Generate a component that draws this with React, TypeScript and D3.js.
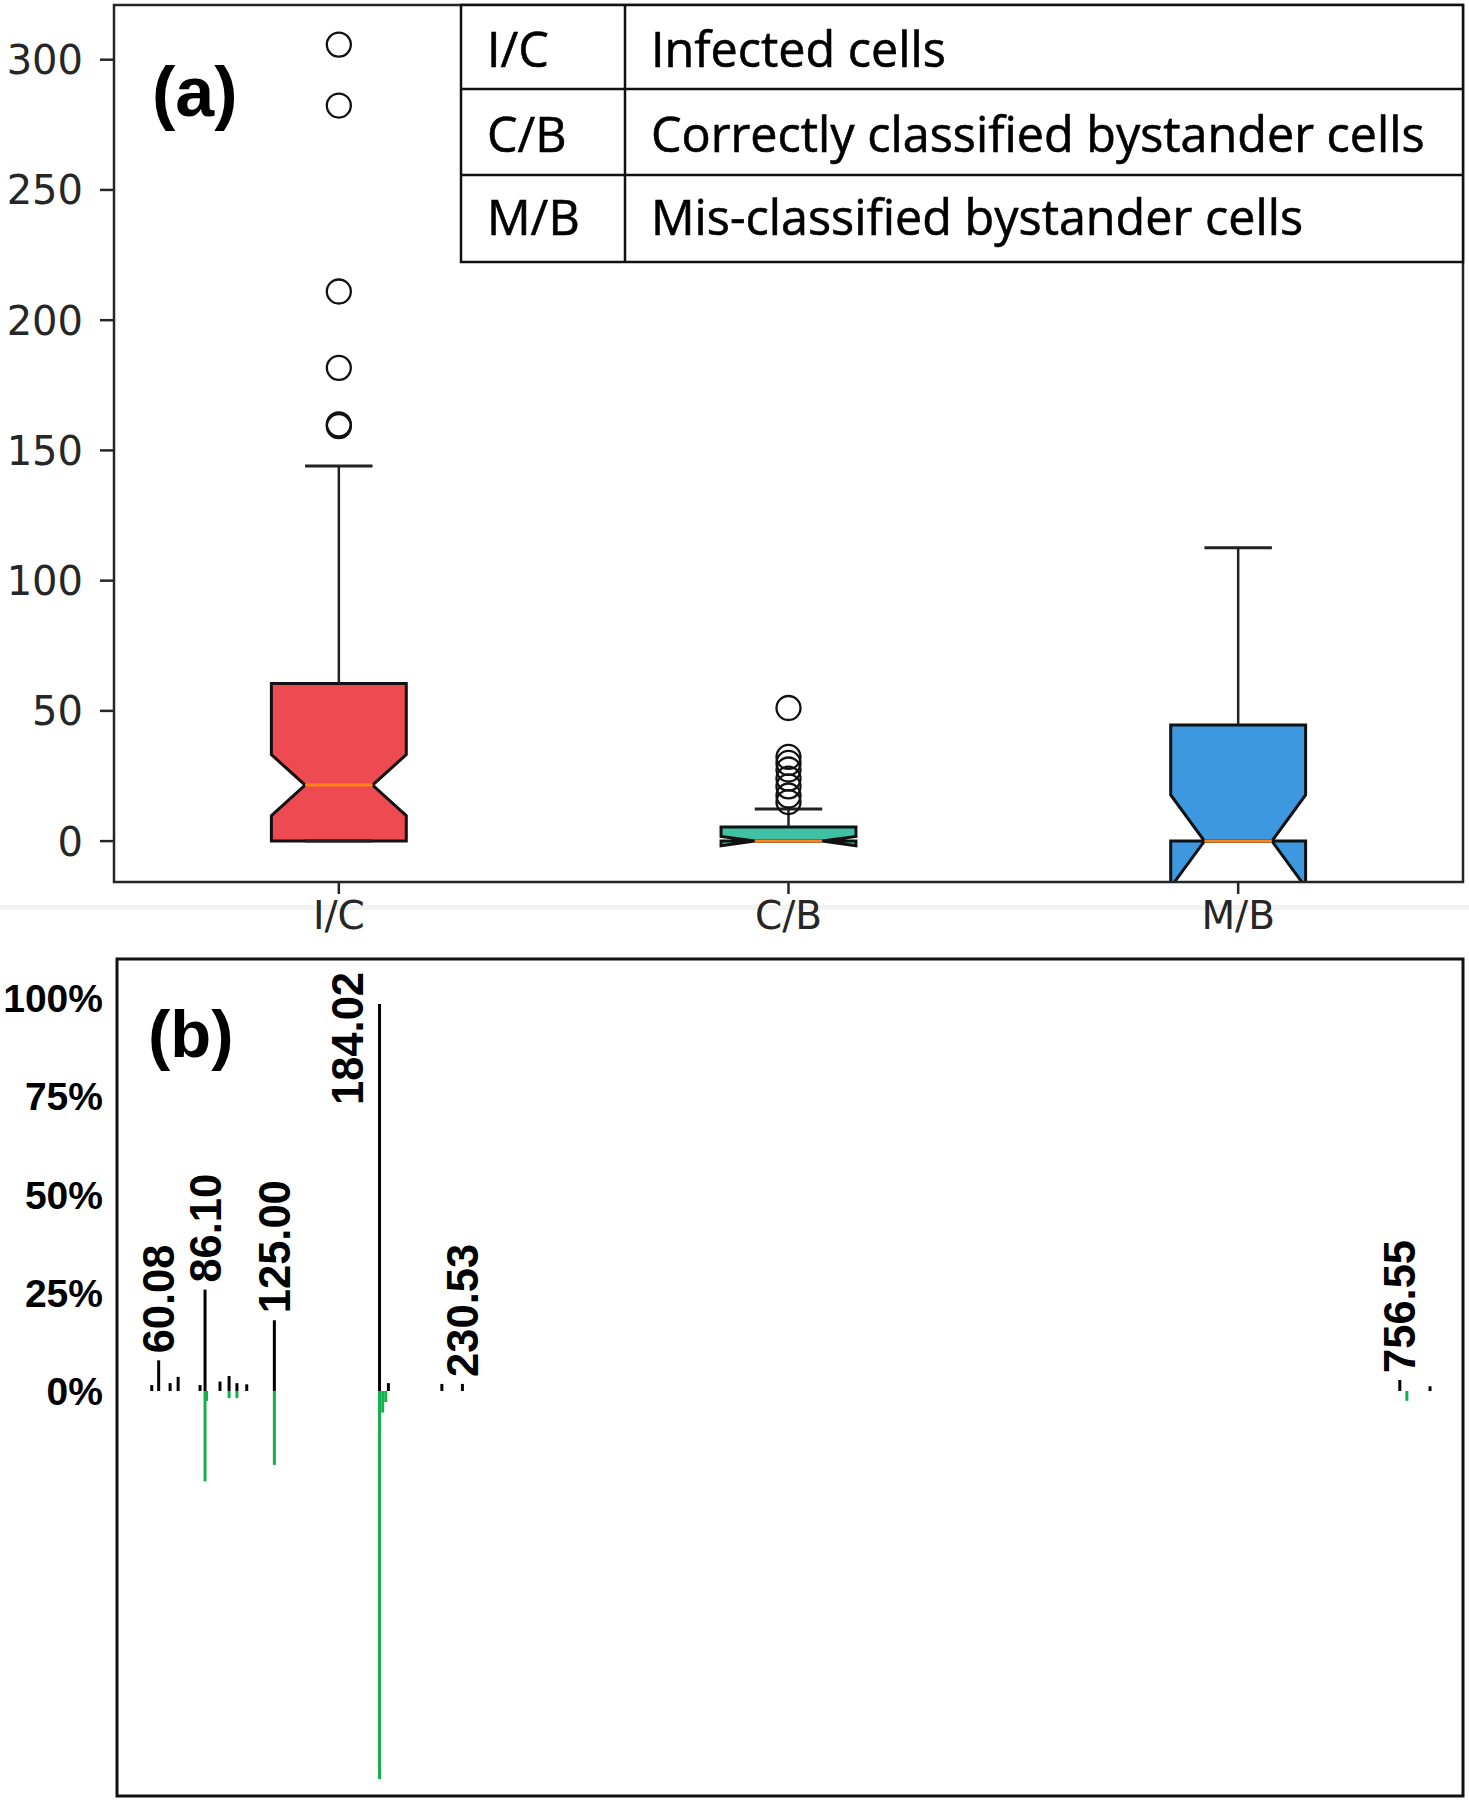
import React from "react";
import * as d3 from "d3";

// ---------- Panel (a) data: notched box plots ----------
const categories = ["I/C", "C/B", "M/B"];
const q1 = [0, 0, 0];
const medians = [21.5, 0, 0];
const q3 = [60.5, 5.4, 44.6];
const notchHalf = [11.7, 1.8, 17.7];
const whiskerLow = [0, 0, 0];
const whiskerHigh = [144, 12.3, 112.6];
const outliers = [
  [305.8, 282.4, 211, 181.7, 160, 159.3],
  [51.1, 32.3, 30, 27.5, 24, 21, 17.5, 15],
  [],
];
const boxColors = ["#EE4A51", "#3FC2A4", "#3D98E0"];
const yTicksA = [0, 50, 100, 150, 200, 250, 300];
const legendCodes = ["I/C", "C/B", "M/B"];
const legendNames = [
  "Infected cells",
  "Correctly classified bystander cells",
  "Mis-classified bystander cells",
];

// ---------- Panel (b) data: mirrored mass spectrum ----------
const expMz = [56.2, 60.08, 66.5, 71.0, 83.3, 86.1, 94.5, 99.6, 104.0, 109.5, 125.0, 184.02, 189.0, 219.0, 230.53, 756.55, 773.5];
const expInt = [1.5, 7.8, 2.0, 3.6, 1.5, 25.8, 2.4, 3.8, 2.0, 1.7, 18.0, 98.5, 2.0, 1.8, 1.8, 2.8, 1.2];
const predMz = [86.1, 87.0, 99.6, 104.0, 125.0, 184.02, 185.8, 187.5, 760.5];
const predInt = [23.0, 2.5, 1.8, 1.8, 18.8, 98.7, 5.5, 2.8, 2.5];
const labelMz = [60.08, 86.1, 125.0, 184.02, 230.53, 756.55];
const labelInt = [7.8, 25.8, 18.0, 98.5, 1.8, 2.8];
const labelText = ["60.08", "86.10", "125.00", "184.02", "230.53", "756.55"];
const yTicksB = [0, 25, 50, 75, 100];

export default function App() {
  // ----- panel (a) geometry -----
  const aL = 114, aR = 1463, aT = 5, aB = 882;
  const xA = d3.scaleLinear().domain([0.5, 3.5]).range([aL, aR]);
  const yA = d3.scaleLinear().domain([-15.7, 321]).range([aB, aT]);
  const boxW = xA(1.3) - xA(1);

  // ----- panel (b) geometry -----
  const bL = 117, bR = 1463, bT = 959, bB = 1796;
  const xB = d3.scaleLinear().domain([36.7, 792]).range([bL, bR]);
  const yUp = d3.scaleLinear().domain([0, 100]).range([1391, 998]);
  const yDown = d3.scaleLinear().domain([0, 100]).range([1391, 1784]);

  const tickFont = "'DejaVu Sans', sans-serif";
  const boldFont = "'Liberation Sans', Arial, sans-serif";
  const labelSize = 43.5;
  const estLen = (s: string) =>
    s.split("").reduce((a, c) => a + (c === "." ? 0.278 : 0.556), 0) * labelSize;

  const line = d3.line<[number, number]>();

  return (
    <svg
      width={1469}
      height={1800}
      style={{ position: "absolute", left: 0, top: 0, background: "#fff" }}
    >
      <defs>
        <clipPath id="clipA">
          <rect x={aL} y={aT} width={aR - aL} height={aB - aT} />
        </clipPath>
      </defs>
      <rect x={0} y={0} width={1469} height={1800} fill="#fff" />
      {/* faint seam between the two panels */}
      <rect x={0} y={905} width={1469} height={5} fill="#f3f3f3" />

      {/* ================= Panel (a) ================= */}
      <g clipPath="url(#clipA)">
        {categories.map((c, i) => {
          const cx = xA(i + 1);
          const left = cx - boxW / 2, right = cx + boxW / 2;
          const capL = cx - boxW / 4, capR = cx + boxW / 4;
          const nLo = medians[i] - notchHalf[i];
          const nHi = medians[i] + notchHalf[i];
          const pts: [number, number][] = [
            [left, yA(q1[i])],
            [right, yA(q1[i])],
            [right, yA(nLo)],
            [capR, yA(medians[i])],
            [right, yA(nHi)],
            [right, yA(q3[i])],
            [left, yA(q3[i])],
            [left, yA(nHi)],
            [capL, yA(medians[i])],
            [left, yA(nLo)],
            [left, yA(q1[i])],
          ];
          return (
            <g key={c}>
              <path
                d={line(pts) + "Z"}
                fill={boxColors[i]}
                stroke="#111"
                strokeWidth={3}
                strokeLinejoin="miter"
              />
              <line x1={cx} x2={cx} y1={yA(q3[i])} y2={yA(whiskerHigh[i])} stroke="#222" strokeWidth={2.5} />
              <line x1={cx} x2={cx} y1={yA(q1[i])} y2={yA(whiskerLow[i])} stroke="#222" strokeWidth={2.5} />
              <line x1={capL} x2={capR} y1={yA(whiskerHigh[i])} y2={yA(whiskerHigh[i])} stroke="#222" strokeWidth={3} />
              <line x1={capL} x2={capR} y1={yA(whiskerLow[i])} y2={yA(whiskerLow[i])} stroke="#222" strokeWidth={3} />
              <line x1={capL} x2={capR} y1={yA(medians[i])} y2={yA(medians[i])} stroke="#FF8317" strokeWidth={3} />
              {outliers[i].map((v, k) => (
                <circle key={k} cx={cx} cy={yA(v)} r={12} fill="none" stroke="#111" strokeWidth={2.3} />
              ))}
            </g>
          );
        })}
      </g>
      {/* frame (a) */}
      <rect x={aL} y={aT} width={aR - aL} height={aB - aT} fill="none" stroke="#262626" strokeWidth={2.5} />
      {/* y ticks (a) */}
      {yTicksA.map((t) => (
        <g key={t}>
          <line x1={aL - 14} x2={aL} y1={yA(t)} y2={yA(t)} stroke="#262626" strokeWidth={2.5} />
          <text
            x={83}
            y={yA(t)}
            dy="0.36em"
            textAnchor="end"
            fontFamily={tickFont}
            fontSize={40}
            fill="#262626"
          >
            {t}
          </text>
        </g>
      ))}
      {/* x ticks (a) */}
      {categories.map((c, i) => (
        <g key={c}>
          <line x1={xA(i + 1)} x2={xA(i + 1)} y1={aB} y2={aB + 12} stroke="#262626" strokeWidth={2.5} />
          <text
            x={xA(i + 1)}
            y={929}
            textAnchor="middle"
            fontFamily={tickFont}
            fontSize={39}
            fill="#262626"
          >
            {c}
          </text>
        </g>
      ))}
      <text x={152} y={116} fontFamily={boldFont} fontWeight="bold" fontSize={70} fill="#000">
        (a)
      </text>

      {/* legend table */}
      <g>
        <rect x={461} y={5} width={1002} height={257} fill="#fff" stroke="#111" strokeWidth={2.5} />
        <line x1={461} x2={1463} y1={89} y2={89} stroke="#111" strokeWidth={2.5} />
        <line x1={461} x2={1463} y1={175} y2={175} stroke="#111" strokeWidth={2.5} />
        <line x1={625} x2={625} y1={5} y2={262} stroke="#111" strokeWidth={2.5} />
        {legendCodes.map((c, i) => {
          const base = [67, 152, 235][i];
          return (
            <g key={c} fontFamily="'Open Sans', sans-serif" fontSize={48.5} fill="#000" stroke="#000" strokeWidth={0.6}>
              <text x={487} y={base}>
                {c}
              </text>
              <text x={651} y={base}>
                {legendNames[i]}
              </text>
            </g>
          );
        })}
      </g>

      {/* ================= Panel (b) ================= */}
      <rect x={bL} y={bT} width={bR - bL} height={bB - bT} fill="none" stroke="#111" strokeWidth={3} />
      {yTicksB.map((t) => (
        <text
          key={t}
          x={103}
          y={yUp(t)}
          dy="0.36em"
          textAnchor="end"
          fontFamily={boldFont}
          fontWeight="bold"
          fontSize={39}
          fill="#000"
        >
          {t}%
        </text>
      ))}
      <text x={148} y={1057} fontFamily={boldFont} fontWeight="bold" fontSize={67} fill="#000">
        (b)
      </text>
      {/* predicted (green, downward) */}
      {predMz.map((m, i) => (
        <line
          key={"p" + i}
          x1={xB(m)}
          x2={xB(m)}
          y1={yDown(0)}
          y2={yDown(predInt[i])}
          stroke="#13B04E"
          strokeWidth={3}
        />
      ))}
      {/* experimental (black, upward) */}
      {expMz.map((m, i) => (
        <line
          key={"e" + i}
          x1={xB(m)}
          x2={xB(m)}
          y1={yUp(0)}
          y2={yUp(expInt[i])}
          stroke="#000"
          strokeWidth={3}
        />
      ))}
      {/* peak labels */}
      {labelMz.map((m, i) => {
        const len = estLen(labelText[i]);
        const gap = 7;
        let x = xB(m);
        let yStart = yUp(labelInt[i]) - gap;
        if (yStart - len < bT + 13) {
          x -= 32;
          yStart = bT + 13 + len;
        }
        return (
          <text
            key={"l" + i}
            transform={`translate(${x},${yStart}) rotate(-90)`}
            dy="0.36em"
            textAnchor="start"
            fontFamily={boldFont}
            fontWeight="bold"
            fontSize={labelSize}
            fill="#000"
          >
            {labelText[i]}
          </text>
        );
      })}
    </svg>
  );
}
